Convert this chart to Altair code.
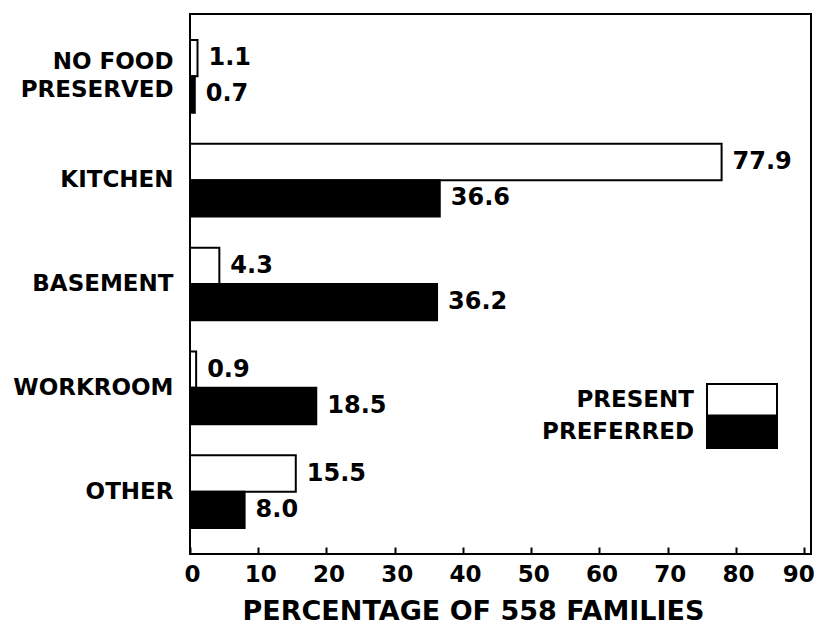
import altair as alt
import pandas as pd

categories = ["NO FOOD\nPRESERVED", "KITCHEN", "BASEMENT", "WORKROOM", "OTHER"]
series = ["PRESENT", "PREFERRED"]
present = [1.1, 77.9, 4.3, 0.9, 15.5]
preferred = [0.7, 36.6, 36.2, 18.5, 8.0]
x_ticks = [0, 10, 20, 30, 40, 50, 60, 70, 80, 90]

rows = []
for c, a, b in zip(categories, present, preferred):
    rows.append({"place": c, "series": "PRESENT", "pct": a})
    rows.append({"place": c, "series": "PREFERRED", "pct": b})
df = pd.DataFrame(rows)

FONT = "DejaVu Sans"
BOX = "M1.8,-0.9H5.8V0.9H1.8Z"

y_enc = alt.Y(
    "place:N", sort=categories,
    scale=alt.Scale(paddingInner=0.3, paddingOuter=0.25),
    axis=alt.Axis(title=None, domain=False, ticks=False,
                  labelExpr="split(datum.value, '\\n')",
                  labelOffset={"condition": {"test": "indexof(datum.value, '\\n') >= 0",
                                             "value": -14}, "value": 0},
                  labelFont=FONT, labelFontSize=23, labelFontWeight="bold",
                  labelColor="black", labelPadding=17, labelLineHeight=28),
)
yoff = alt.YOffset("series:N", sort=series,
                   scale=alt.Scale(domain=series, paddingInner=0, paddingOuter=0))
x_enc = alt.X(
    "pct:Q",
    scale=alt.Scale(domain=[0, 91], nice=False, zero=True),
    axis=alt.Axis(title="PERCENTAGE OF 558 FAMILIES", values=x_ticks, domain=False,
                  grid=False, offset=-7, tickSize=7, tickWidth=2, tickColor="black",
                  labelFont=FONT, labelFontSize=23, labelFontWeight="bold",
                  labelColor="black", labelPadding=9, labelOverlap=False,
                  labelFlush=False, labelBound=False,
                  labelAlign={"condition": {"test": "datum.value == 90", "value": "right"},
                              "value": "center"},
                  labelOffset={"condition": {"test": "datum.value == 90", "value": 10},
                               "value": 2},
                  titleFont=FONT, titleFontSize=27, titleFontWeight="bold",
                  titleColor="black", titlePadding=12, titleX=283),
)

legend_common = dict(title=None, orient="none", symbolType=BOX, symbolSize=1225,
                     symbolStrokeWidth=2, labelAlign="right", labelOffset=0, padding=0,
                     labelFont=FONT, labelFontSize=23, labelFontWeight="bold",
                     labelColor="black")

bars = alt.Chart(df).mark_bar(strokeWidth=2).encode(
    x=x_enc, y=y_enc, yOffset=yoff,
    fill=alt.Fill("series:N", sort=series,
                  scale=alt.Scale(domain=series, range=["white", "black"]),
                  legend=alt.Legend(values=["PRESENT"], legendX=467, legendY=367.25,
                                    symbolStrokeColor="black", **legend_common)),
    stroke=alt.Stroke("series:N",
                      scale=alt.Scale(domain=["PREFERRED", "PRESENT"],
                                      range=["black", "black"]),
                      legend=alt.Legend(values=["PREFERRED"], legendX=467, legendY=399.75,
                                        symbolFillColor="black", **legend_common)),
)

labels = alt.Chart(df).mark_text(
    align="left", baseline="middle", dx=11, font=FONT, fontSize=24,
    fontWeight="bold", color="black",
).encode(
    x="pct:Q", y=alt.Y("place:N", sort=categories), yOffset=yoff,
    text=alt.Text("pct:Q", format=".1f"),
)

chart = (bars + labels).properties(
    width=621, height=540,
    autosize=alt.AutoSizeParams(type="none"),
    padding={"left": 182, "top": 6, "right": 4, "bottom": 70},
    background="white",
).configure_view(stroke="black", strokeWidth=2)

chart.save("out.html", embed_options={"renderer": "svg", "actions": False})
